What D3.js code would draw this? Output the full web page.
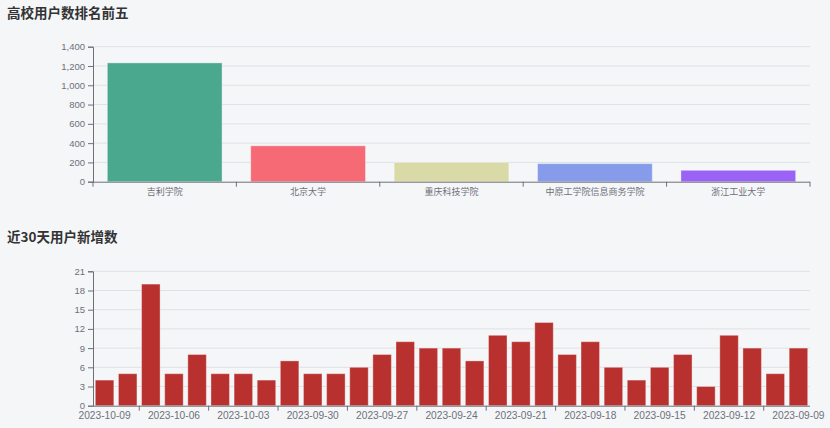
<!DOCTYPE html>
<html><head><meta charset="utf-8">
<script src="https://cdn.jsdelivr.net/npm/d3@7"></script>
<style>
html,body{margin:0;padding:0;background:#f5f6f8;}
svg{display:block;font-family:"Liberation Sans","Noto Sans CJK SC",sans-serif;}
</style></head>
<body>
<svg id="c" width="830" height="428"></svg>
<script>
const schools = ["吉利学院","北京大学","重庆科技学院","中原工学院信息商务学院","浙江工业大学"];
const schoolUsers = [1232, 372, 200, 187, 118];
const schoolColors = ["#4aa88f","#f56a74","#dad9a8","#869cea","#9a62f5"];
const schoolTicks = [0,200,400,600,800,1000,1200,1400];

const dates = ["2023-10-09","2023-10-08","2023-10-07","2023-10-06","2023-10-05","2023-10-04","2023-10-03","2023-10-02","2023-10-01","2023-09-30","2023-09-29","2023-09-28","2023-09-27","2023-09-26","2023-09-25","2023-09-24","2023-09-23","2023-09-22","2023-09-21","2023-09-20","2023-09-19","2023-09-18","2023-09-17","2023-09-16","2023-09-15","2023-09-14","2023-09-13","2023-09-12","2023-09-11","2023-09-10","2023-09-09"];
const newUsers = [4,5,19,5,8,5,5,4,7,5,5,6,8,10,9,9,7,11,10,13,8,10,6,4,6,8,3,11,9,5,9];
const newTicks = [0,3,6,9,12,15,18,21];

const svg = d3.select("#c");
const axisColor = "#6e7079", gridColor = "#dfe1e6", labelColor = "#6e7079";

function title(t, y){
  svg.append("text").attr("x",7).attr("y",y).attr("fill","#333")
    .attr("font-size",13.5).attr("font-weight","bold")
    .attr("font-family","'Noto Sans CJK SC',sans-serif").text(t);
}

function chart(opts){
  const {cats, vals, colors, ticks, yTop, yBottom, labelEvery, tickOffset} = opts;
  const x = d3.scaleBand().domain(cats).range([93,810]).paddingInner(0).paddingOuter(0);
  const y = d3.scaleLinear().domain([0, ticks[ticks.length-1]]).range([yBottom, yTop]);
  const g = svg.append("g");
  g.selectAll("line.grid").data(ticks.slice(1)).join("line")
    .attr("x1",93).attr("x2",810).attr("y1",d=>y(d)).attr("y2",d=>y(d))
    .attr("stroke",gridColor).attr("stroke-width",1);
  const bw = x.bandwidth()*0.8;
  g.selectAll("rect").data(vals).join("rect")
    .attr("x",(d,i)=>x(cats[i])+x.bandwidth()*0.1)
    .attr("width",bw)
    .attr("y",d=>y(d)).attr("height",d=>y(0)-y(d))
    .attr("fill",(d,i)=>colors[i%colors.length])
    .attr("stroke","#ffffff").attr("stroke-opacity",0.35).attr("stroke-width",1);
  const ya = d3.axisLeft(y).tickValues(ticks).tickSize(5).tickPadding(3)
    .tickFormat(d3.format(","));
  const yg = g.append("g").attr("transform","translate(93,0)").call(ya);
  yg.select(".domain").attr("stroke",axisColor);
  yg.selectAll(".tick line").attr("stroke",axisColor);
  yg.selectAll("text").attr("fill",labelColor).attr("font-size",9.5)
    .attr("font-family","'Liberation Sans',sans-serif");
  g.append("line").attr("x1",93).attr("x2",810).attr("y1",y(0)+0.5).attr("y2",y(0)+0.5)
    .attr("stroke",axisColor);
  const tickIdx = [];
  for(let i=tickOffset;i<=cats.length;i+=labelEvery) tickIdx.push(i);
  g.selectAll("line.xt").data(tickIdx).join("line")
    .attr("x1",i=>93+i*x.step()).attr("x2",i=>93+i*x.step())
    .attr("y1",y(0)).attr("y2",y(0)+5).attr("stroke",axisColor);
  g.selectAll("text.xl").data(cats.filter((c,i)=>i%labelEvery===0)).join("text")
    .attr("x",d=>x(d)+x.bandwidth()/2).attr("y",y(0)+opts.labelDy)
    .attr("text-anchor","middle").attr("fill",labelColor).attr("font-size",opts.labelSize)
    .attr("font-family",opts.labelFont).text(d=>d);
}

title("高校用户数排名前五", 18);
chart({cats:schools, vals:schoolUsers, colors:schoolColors, ticks:schoolTicks,
  yTop:46.7, yBottom:181.7, labelEvery:1, tickOffset:0, labelSize:9, labelDy:13,
  labelFont:"'Noto Sans CJK SC',sans-serif"});

title("近30天用户新增数", 242);
chart({cats:dates, vals:newUsers, colors:["#b8312f"], ticks:newTicks,
  yTop:271.3, yBottom:405.7, labelEvery:3, tickOffset:2, labelSize:10.2, labelDy:13.5,
  labelFont:"'Liberation Sans',sans-serif"});
</script>
</body></html>
